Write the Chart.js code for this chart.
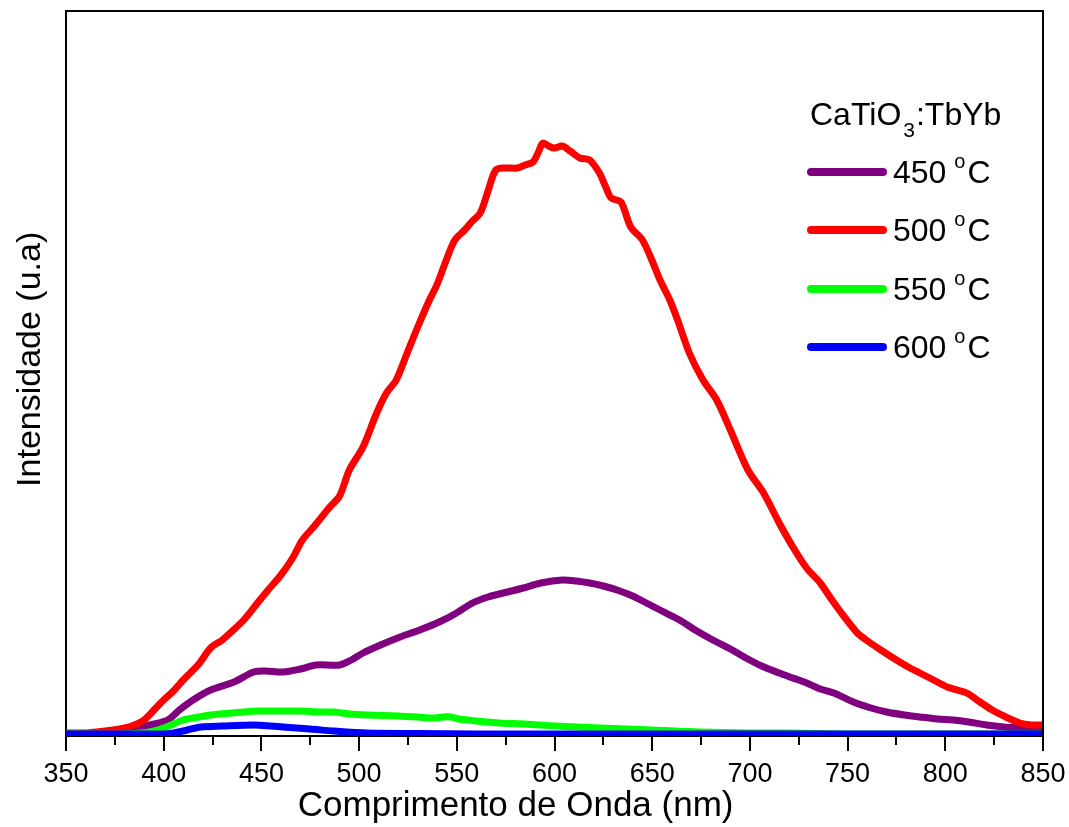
<!DOCTYPE html>
<html>
<head>
<meta charset="utf-8">
<script src="https://cdn.jsdelivr.net/npm/chart.js@4.4.1/dist/chart.umd.min.js"></script>
<style>
  html, body { margin: 0; padding: 0; background: #ffffff; }
  #wrap { width: 1069px; height: 827px; }
</style>
</head>
<body>
<div id="wrap"><canvas id="c" width="1069" height="827"></canvas></div>
<script>
// ---- Data (arbitrary intensity units) ----
const legendTitle = "CaTiO3:TbYb";
const seriesLabels = ["450 °C", "500 °C", "550 °C", "600 °C"];
const seriesColors = ["#800080", "#ff0000", "#00ff00", "#0000ff"];
const xTickValues = [350, 400, 450, 500, 550, 600, 650, 700, 750, 800, 850];

const wl450 = [350,360,370,380,387,393,402,408,415,424,436,446,452,461,470,478,490,496,502,511,521,531,541,549,558,566,576,584,593,604,611,618,625,632,640,647,655,664,672,681,690,698,706,715,722,729,736,743,753,762,770,779,787,796,804,812,821,830,838,844,850];
const int450 = [2,2,3,5,8,11,16,26,36,46,54,64,65,64,67,71,71,76,83,91,99,106,114,122,133,139,144,148,153,156,155,153,150,146,140,133,125,116,106,96,87,78,70,63,58,53,47,43,34,28,24,21,19,17,16,14,11,9,8,7,6];

const wl500 = [350,360,370,380,385,390,396,400,405,410,418,424,430,434,441,448,453,460,466,471,478,485,490,495,502,509,514,519,525,530,536,540,545,549,554,558,562,566,570,575,581,585,589,592,594,597,600,604,608,613,618,623,626,629,634,639,645,650,654,659,663,669,676,683,690,699,707,715,722,729,736,742,748,755,761,767,775,781,787,794,801,806,811,817,824,831,838,844,850];
const int500 = [3,3,5,8,11,16,28,36,45,56,72,88,96,103,116,133,145,161,178,196,212,229,240,266,289,323,343,356,385,409,436,452,478,496,506,515,523,545,566,568,568,571,574,585,593,590,588,590,585,578,576,563,550,538,534,509,496,475,456,436,416,383,356,336,306,266,243,213,189,168,153,136,120,103,94,86,76,69,63,56,49,46,43,35,26,19,13,11,11];

const wl550 = [350,380,393,400,410,418,424,435,448,460,470,480,487,495,504,520,530,538,543,547,551,560,572,585,600,623,650,674,700,720,750,800,850];
const int550 = [2,2,4,8,16,19,21,23,25,25,25,24,24,22,21,20,19,18,19,19,17,15,13,12,10,8,6,4,3,3,2,2,2];

const wl600 = [350,400,405,412,419,430,446,455,461,475,487,504,530,560,850];
const int600 = [2,2,3,6,9,10,11,10,9,7,5,3,2.5,2,2];

const toPts = (xs, ys) => xs.map((x, i) => ({ x: x, y: ys[i] }));

const FONT = "'Liberation Sans', Arial, Helvetica, sans-serif";

const framePlugin = {
  id: 'frameAndLegend',
  afterDraw(chart) {
    const ctx = chart.ctx;
    const a = chart.chartArea;
    const xs = chart.scales.x;
    ctx.save();
    // top and right frame
    ctx.strokeStyle = '#000';
    ctx.lineWidth = 2;
    ctx.beginPath();
    ctx.moveTo(a.left, a.top);
    ctx.lineTo(a.right, a.top);
    ctx.lineTo(a.right, a.bottom);
    ctx.stroke();
    // x tick marks (major / minor), outward
    for (let v = 350; v <= 850; v += 25) {
      const px = Math.round(xs.getPixelForValue(v));
      const len = (v % 50 === 0) ? 15 : 9;
      ctx.beginPath();
      ctx.moveTo(px, a.bottom);
      ctx.lineTo(px, a.bottom + len);
      ctx.stroke();
    }
    // legend
    ctx.fillStyle = '#000';
    ctx.textBaseline = 'alphabetic';
    ctx.textAlign = 'left';
    // title with subscript
    let tx = 810, ty = 125;
    ctx.font = '32px ' + FONT;
    ctx.fillText('CaTiO', tx, ty);
    tx += ctx.measureText('CaTiO').width + 2;
    ctx.font = '21px ' + FONT;
    ctx.fillText('3', tx, ty + 12);
    tx += ctx.measureText('3').width + 1;
    ctx.font = '32px ' + FONT;
    ctx.fillText(':TbYb', tx, ty);
    // items
    const ys = [172, 230, 289, 347];
    chart.data.datasets.forEach((ds) => {
      const y = ys[ds.legendIndex];
      ctx.strokeStyle = ds.borderColor;
      ctx.lineWidth = 8;
      ctx.lineCap = 'round';
      ctx.beginPath();
      ctx.moveTo(811, y);
      ctx.lineTo(883, y);
      ctx.stroke();
      const parts = ds.label.split(' °');
      let x = 893;
      ctx.font = '32px ' + FONT;
      ctx.fillStyle = '#000';
      ctx.fillText(parts[0] + ' ', x, y + 11);
      x += ctx.measureText(parts[0] + ' ').width - 1;
      ctx.font = '20px ' + FONT;
      ctx.fillText('o', x, y - 4);
      x += ctx.measureText('o').width + 2;
      ctx.font = '32px ' + FONT;
      ctx.fillText(parts[1], x, y + 11);
    });
    ctx.restore();
  }
};

const makeDs = (idx, xs, ys, order) => ({
  label: seriesLabels[idx],
  data: toPts(xs, ys),
  borderColor: seriesColors[idx],
  backgroundColor: seriesColors[idx],
  borderWidth: 7,
  pointRadius: 0,
  tension: 0.3,
  fill: false,
  order: order,
  legendIndex: idx
});

new Chart(document.getElementById('c'), {
  type: 'line',
  data: {
    datasets: [
      makeDs(0, wl450, int450, 4),
      makeDs(1, wl500, int500, 3),
      makeDs(2, wl550, int550, 2),
      makeDs(3, wl600, int600, 1)
    ]
  },
  options: {
    responsive: false,
    animation: false,
    devicePixelRatio: 1,
    layout: { padding: { top: 11, right: 26, left: 0, bottom: 0 } },
    plugins: { legend: { display: false }, tooltip: { enabled: false } },
    scales: {
      x: {
        type: 'linear',
        min: 350,
        max: 850,
        afterBuildTicks: (s) => { s.ticks = xTickValues.map(v => ({ value: v })); },
        afterFit: (s) => { s.height = 91; s.paddingLeft = 0; s.paddingRight = 0; },
        grid: { display: false, drawTicks: false },
        border: { display: true, color: '#000', width: 2 },
        ticks: { color: '#000', font: { family: FONT, size: 27 }, padding: 22, maxRotation: 0, autoSkip: false },
        title: { display: true, text: 'Comprimento de Onda (nm)        ', color: '#000', font: { family: FONT, size: 35 }, padding: { top: 0, bottom: 0 } }
      },
      y: {
        type: 'linear',
        min: 0,
        max: 725,
        afterFit: (s) => { s.width = 66; },
        grid: { display: false, drawTicks: false },
        border: { display: true, color: '#000', width: 2 },
        ticks: { display: false },
        title: { display: true, text: '   Intensidade (u.a)', color: '#000', font: { family: FONT, size: 34 }, padding: { top: 10, bottom: 0 } }
      }
    }
  },
  plugins: [framePlugin]
});
</script>
</body>
</html>
